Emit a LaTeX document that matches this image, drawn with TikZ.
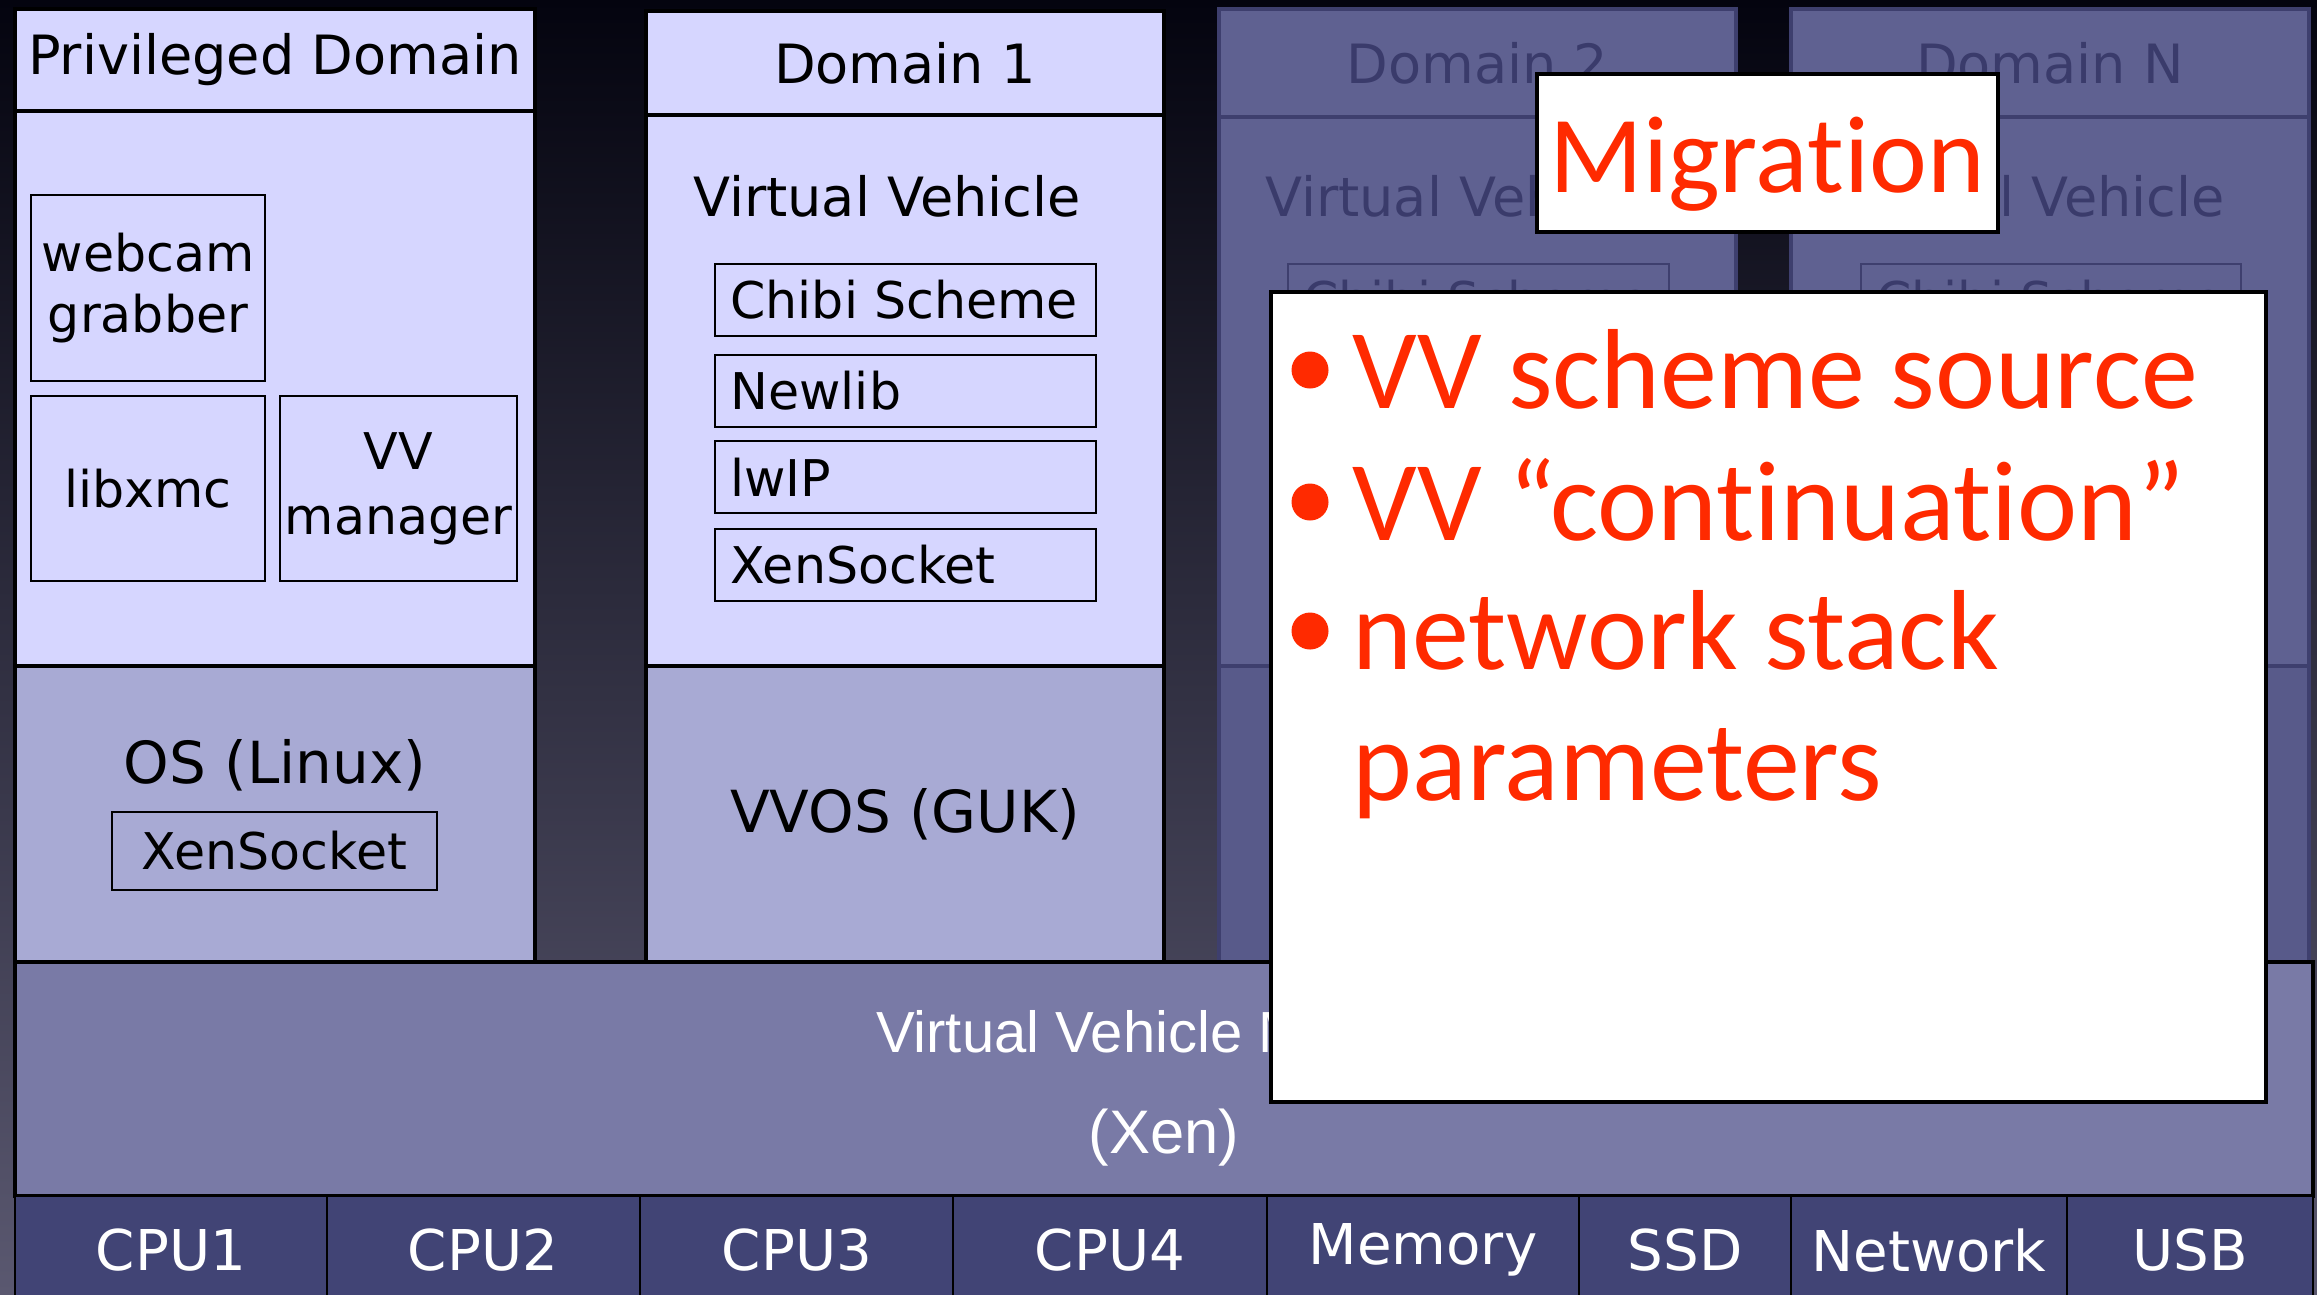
\documentclass[tikz,border=0pt]{standalone}
\usepackage{fontspec}
\setmainfont{DejaVu Sans}
\newfontfamily\gillf[Ligatures=NoCommon]{Carlito}
\newfontfamily\helvf{Liberation Sans}
\usetikzlibrary{fit}
\definecolor{bgtop}{HTML}{04040F}
\definecolor{bgbot}{HTML}{5A5870}
\definecolor{lav}{HTML}{D6D6FF}
\definecolor{oscol}{HTML}{A8AAD4}
\definecolor{hypcol}{HTML}{797AA6}
\definecolor{hwcol}{HTML}{414475}
\definecolor{dimfill}{HTML}{5F6191}
\definecolor{dimos}{HTML}{585A8A}
\definecolor{dimline}{HTML}{3E3F6E}
\definecolor{dimtext}{HTML}{3A3B6B}
\definecolor{migred}{HTML}{FF2A00}
\begin{document}
\begin{tikzpicture}[x=0.1mm,y=-0.1mm,
  lbl/.style={font=\fontsize{14.4}{17.6}\selectfont, align=center, inner sep=0pt},
  hdr/.style={lbl, font=\fontsize{15.4}{18}\selectfont},
  oslbl/.style={lbl, font=\fontsize{16.5}{19}\selectfont},
  area/.style={draw=black, line width=0.9pt, inner sep=0pt},
  innerbox/.style={draw=black, line width=0.7pt, inner sep=0pt},
  dimarea/.style={draw=dimline, line width=0.9pt, inner sep=0pt, fill=dimfill},
  dimbox/.style={draw=dimline, line width=0.7pt, inner sep=0pt},
  dimlbl/.style={hdr, text=dimtext},
  dimsmall/.style={lbl, text=dimtext},
  hwcell/.style={draw=black, line width=0.7pt, inner sep=0pt, fill=hwcol},
  hwlbl/.style={lbl, text=white, font=\fontsize{16}{19}\selectfont},
  hyplbl/.style={text=white, inner sep=0pt, font=\helvf\fontsize{16.5}{19}\selectfont},
  redtxt/.style={text=migred, inner sep=0pt, font=\gillf\fontsize{32.4}{40}\selectfont},
  bulletdot/.style={circle, fill=migred, inner sep=0pt, minimum size=3.7mm},
  whitebox/.style={draw=black, line width=0.9pt, fill=white, inner sep=0pt}]
\useasboundingbox (0,0) rectangle (2317,1294);
\clip (0,0) rectangle (2317,1294);
\shade[top color=bgtop, bottom color=bgbot] (0,0) rectangle (2317,1294);

% Privileged Domain
\node[area, fill=lav, fit={(15,9) (535,111)}] (pdh) {};
\node[hdr] (pdht) at (pdh.center) {Privileged Domain};
\node[area, fill=lav, fit={(15,111) (535,666)}] (pdb) {};
\node[innerbox, fit={(31,195) (265,381)}] (webcam) {};
\node[lbl] (webcamt) at (webcam.center) {webcam\\grabber};
\node[innerbox, fit={(31,396) (265,581)}] (libxmc) {};
\node[lbl] (libxmct) at (libxmc.center) {libxmc};
\node[innerbox, fit={(280,396) (517,581)}] (vvm) {};
\node[lbl, font=\fontsize{14.4}{18.5}\selectfont] (vvmt) at (vvm.center) {VV\\manager};
\node[area, fill=oscol, fit={(15,666) (535,962)}] (pdos) {};
\node[oslbl] (pdost) at (275,765) {OS (Linux)};
\node[innerbox, fit={(112,812) (437,890)}] (pdxs) {};
\node[lbl] (pdxst) at (pdxs.center) {XenSocket};

% Domain 1
\node[area, fill=lav, fit={(646,11) (1164,115)}] (d1h) {};
\node[hdr] (d1ht) at (d1h.center) {Domain 1};
\node[area, fill=lav, fit={(646,115) (1164,666)}] (d1b) {};
\node[hdr] (d1vv) at (887,196) {Virtual Vehicle};
\node[innerbox, fit={(715,264) (1096,336)}] (chibi) {};
\node[lbl, anchor=west] (chibit) at ([xshift=1.6mm]chibi.west) {Chibi Scheme};
\node[innerbox, fit={(715,355) (1096,427)}] (newlib) {};
\node[lbl, anchor=west] (newlibt) at ([xshift=1.6mm]newlib.west) {Newlib};
\node[innerbox, fit={(715,441) (1096,513)}] (lwip) {};
\node[lbl, anchor=west] (lwipt) at ([xshift=1.6mm]lwip.west) {lwIP};
\node[innerbox, fit={(715,529) (1096,601)}] (d1xs) {};
\node[lbl, anchor=west] (d1xst) at ([xshift=1.6mm]d1xs.west) {XenSocket};
\node[area, fill=oscol, fit={(646,666) (1164,962)}] (d1os) {};
\node[oslbl] (d1ost) at (d1os.center) {VVOS (GUK)};

% Domain 2 (dimmed)
\node[dimarea, fit={(1219,9) (1736,117)}] (d2h) {};
\node[dimlbl] (d2ht) at (d2h.center) {Domain 2};
\node[dimarea, fit={(1219,117) (1736,666)}] (d2b) {};
\node[dimlbl] (d2vv) at (1459,196) {Virtual Vehicle};
\node[dimbox, fit={(1288,264) (1669,336)}] (d2chibi) {};
\node[dimsmall, anchor=west] (d2chibit) at ([xshift=1.6mm]d2chibi.west) {Chibi Scheme};
\node[dimarea, fill=dimos, fit={(1219,666) (1736,962)}] (d2os) {};

% Domain N (dimmed)
\node[dimarea, fit={(1791,9) (2309,117)}] (dnh) {};
\node[dimlbl] (dnht) at (dnh.center) {Domain N};
\node[dimarea, fit={(1791,117) (2309,666)}] (dnb) {};
\node[dimlbl] (dnvv) at (2031,196) {Virtual Vehicle};
\node[dimbox, fit={(1861,264) (2241,336)}] (dnchibi) {};
\node[dimsmall, anchor=west] (dnchibit) at ([xshift=1.6mm]dnchibi.west) {Chibi Scheme};
\node[dimarea, fill=dimos, fit={(1791,666) (2309,962)}] (dnos) {};

% Hypervisor
\node[area, fill=hypcol, fit={(15,962) (2313,1196)}] (hyp) {};
\node[hyplbl] (hypt1) at (1164,1032) {Virtual Vehicle Monitor};
\node[hyplbl, font=\helvf\fontsize{17.5}{19}\selectfont] (hypt2) at (1164,1138) {(Xen)};

% Hardware
\node[hwcell, fit={(15,1196) (327,1310)}] (cpu1) {};
\node[hwlbl] (cpu1t) at (171,1250) {CPU1};
\node[hwcell, fit={(327,1196) (640,1310)}] (cpu2) {};
\node[hwlbl] (cpu2t) at (483,1250) {CPU2};
\node[hwcell, fit={(640,1196) (953,1310)}] (cpu3) {};
\node[hwlbl] (cpu3t) at (797,1250) {CPU3};
\node[hwcell, fit={(953,1196) (1267,1310)}] (cpu4) {};
\node[hwlbl] (cpu4t) at (1110,1250) {CPU4};
\node[hwcell, fit={(1267,1196) (1579,1310)}] (mem) {};
\node[hwlbl] (memt) at (1423,1250) {Memory};
\node[hwcell, fit={(1579,1196) (1791,1310)}] (ssd) {};
\node[hwlbl] (ssdt) at (1685,1250) {SSD};
\node[hwcell, fit={(1791,1196) (2067,1310)}] (net) {};
\node[hwlbl] (nett) at (1929,1250) {Network};
\node[hwcell, fit={(2067,1196) (2313,1310)}] (usb) {};
\node[hwlbl] (usbt) at (2190,1250) {USB};

% Migration callout
\node[whitebox, fit={(1537,74) (1998,232)}] (mig) {};
\node[redtxt, font=\gillf\fontsize{31.2}{40}\selectfont, anchor=base] (migt) at (1767,192) {Migration};

% Bullet box
\node[whitebox, fit={(1271,292) (2266,1102)}] (bul) {};
\node[bulletdot] (b1) at (1310,370) {};
\node[redtxt, anchor=base west] (b1t) at (1352,408) {VV scheme source};
\node[bulletdot] (b2) at (1310,502) {};
\node[redtxt, anchor=base west] (b2t) at (1352,540) {VV “continuation”};
\node[bulletdot] (b3) at (1310,631) {};
\node[redtxt, anchor=base west] (b3t) at (1352,669) {network stack};
\node[redtxt, anchor=base west] (b4t) at (1352,800) {parameters};
\end{tikzpicture}
\end{document}
